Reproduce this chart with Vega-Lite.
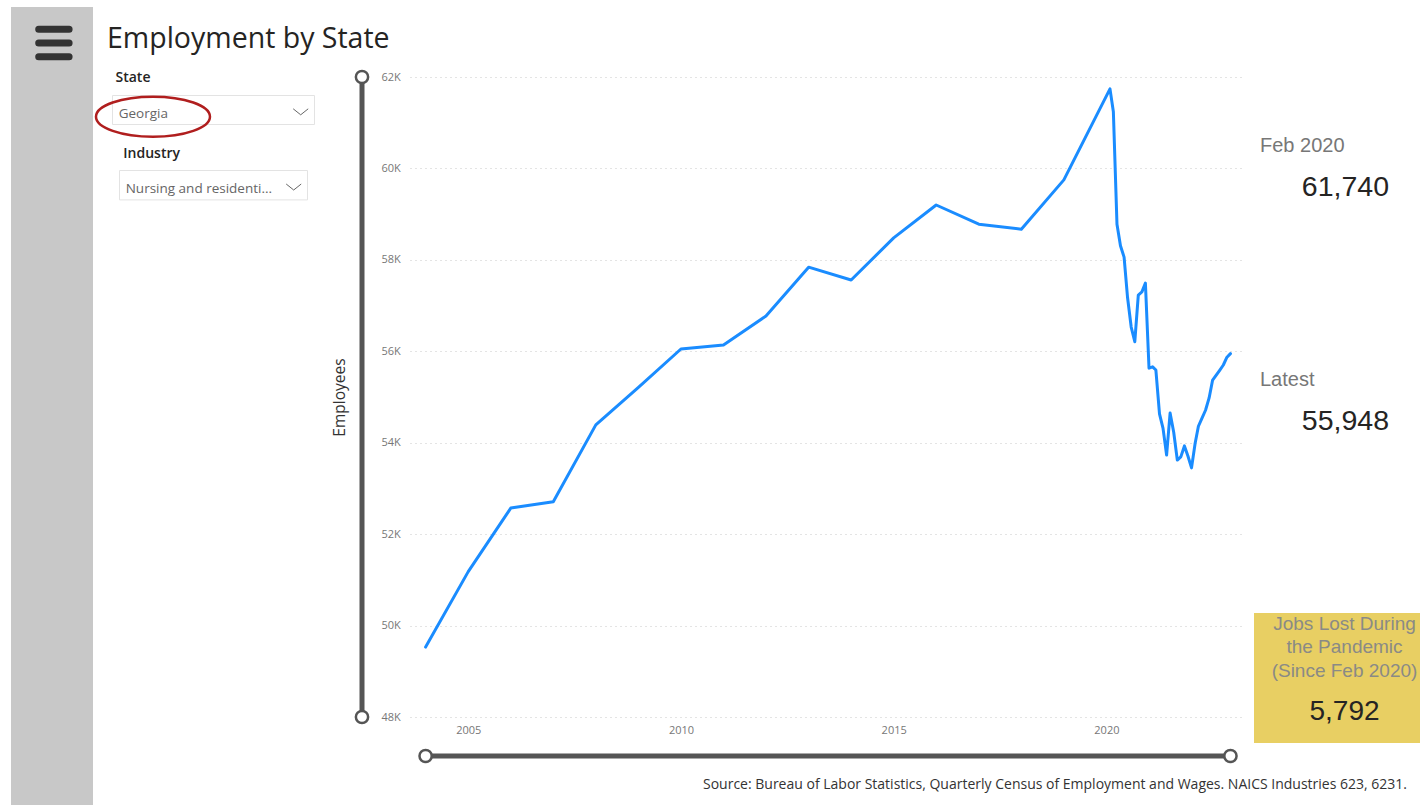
{
  "$schema": "https://vega.github.io/schema/vega-lite/v6.json",
  "background": "white",
  "padding": {"left": 11, "top": 7, "right": 0, "bottom": 0},
  "spacing": 0,
  "config": {
    "view": {"stroke": null},
    "concat": {"spacing": 0},
    "font": "Open Sans"
  },
  "datasets": {
    "employment": [
      {"date": "2004-01-01", "employees": 49530},
      {"date": "2005-01-01", "employees": 51180},
      {"date": "2006-01-01", "employees": 52570},
      {"date": "2007-01-01", "employees": 52710},
      {"date": "2008-01-01", "employees": 54390},
      {"date": "2009-01-01", "employees": 55210},
      {"date": "2010-01-01", "employees": 56050},
      {"date": "2011-01-01", "employees": 56140},
      {"date": "2012-01-01", "employees": 56770},
      {"date": "2013-01-01", "employees": 57840},
      {"date": "2014-01-01", "employees": 57560},
      {"date": "2015-01-01", "employees": 58480},
      {"date": "2016-01-01", "employees": 59200},
      {"date": "2017-01-01", "employees": 58780},
      {"date": "2018-01-01", "employees": 58670},
      {"date": "2019-01-01", "employees": 59750},
      {"date": "2020-02-01", "employees": 61740},
      {"date": "2020-03-01", "employees": 61240},
      {"date": "2020-04-01", "employees": 58780},
      {"date": "2020-05-01", "employees": 58310},
      {"date": "2020-06-01", "employees": 58060},
      {"date": "2020-07-01", "employees": 57170},
      {"date": "2020-08-01", "employees": 56530},
      {"date": "2020-09-01", "employees": 56210},
      {"date": "2020-10-01", "employees": 57230},
      {"date": "2020-11-01", "employees": 57300},
      {"date": "2020-12-01", "employees": 57490},
      {"date": "2021-01-01", "employees": 55630},
      {"date": "2021-02-01", "employees": 55660},
      {"date": "2021-03-01", "employees": 55590},
      {"date": "2021-04-01", "employees": 54630},
      {"date": "2021-05-01", "employees": 54320},
      {"date": "2021-06-01", "employees": 53730},
      {"date": "2021-07-01", "employees": 54650},
      {"date": "2021-08-01", "employees": 54230},
      {"date": "2021-09-01", "employees": 53620},
      {"date": "2021-10-01", "employees": 53690},
      {"date": "2021-11-01", "employees": 53930},
      {"date": "2021-12-01", "employees": 53710},
      {"date": "2022-01-01", "employees": 53450},
      {"date": "2022-02-01", "employees": 53990},
      {"date": "2022-03-01", "employees": 54360},
      {"date": "2022-04-01", "employees": 54540},
      {"date": "2022-05-01", "employees": 54710},
      {"date": "2022-06-01", "employees": 54980},
      {"date": "2022-07-01", "employees": 55370},
      {"date": "2022-08-01", "employees": 55480},
      {"date": "2022-09-01", "employees": 55590},
      {"date": "2022-10-01", "employees": 55700},
      {"date": "2022-11-01", "employees": 55870},
      {"date": "2022-12-01", "employees": 55948}
    ]
  },
  "hconcat": [
    {
      "bounds": "flush",
      "spacing": 0,
      "vconcat": [
        {
          "width": 82, "height": 72,
          "view": {"fill": "#c8c8c8", "stroke": null},
          "data": {"values": [{"icon": "menu"}]},
          "mark": {"type": "point", "shape": "M-0.875,-0.9L1.125,-0.9M-0.875,0L1.125,0M-0.875,0.9L1.125,0.9", "size": 924, "filled": false, "stroke": "#333333", "strokeWidth": 7, "strokeCap": "round", "opacity": 1}
        },
        {
          "width": 82, "height": 726,
          "view": {"fill": "#c8c8c8", "stroke": null},
          "data": {"values": []},
          "mark": "point"
        }
      ]
    },
    {
      "spacing": 0,
      "vconcat": [
        {
          "width": 1, "height": 41.3,
          "data": {"values": []},
          "mark": "point",
          "title": {"text": "Employment by State", "orient": "bottom", "anchor": "start", "frame": "group", "dx": 14, "offset": 0, "baseline": "alphabetic", "font": "Open Sans", "fontSize": 28.5, "fontWeight": "normal", "color": "#252423"}
        },
        {
          "spacing": 0,
          "hconcat": [
            {"width": 0.01, "height": 1, "data": {"values": []}, "mark": "point"},
            {
              "bounds": "flush",
              "center": true,
              "spacing": 0,
              "vconcat": [
                {
                  "width": 202, "height": 28.4,
                  "data": {"values": []},
                  "mark": "point",
                  "title": {"text": "State", "orient": "bottom", "anchor": "start", "frame": "group", "dx": 3.5, "offset": 0, "baseline": "alphabetic", "font": "Open Sans", "fontSize": 14, "fontWeight": 600, "color": "#252423"}
                },
                {"width": 1, "height": 11.6, "data": {"values": []}, "mark": "point"},
                {
                  "width": 202, "height": 29,
                  "view": {"stroke": "#e3e3e3", "strokeWidth": 1},
                  "data": {"values": [{"part": "value", "label": "Georgia"}, {"part": "chevron", "label": ""}]},
                  "encoding": {
                    "x": {"field": "part", "type": "nominal", "scale": {"type": "point", "domain": ["value", "chevron"], "padding": 0}, "axis": null}
                  },
                  "layer": [
                    {
                      "transform": [{"filter": "datum.part === 'value'"}],
                      "mark": {"type": "text", "align": "left", "baseline": "alphabetic", "dx": 6.7, "dy": 8, "font": "Open Sans", "fontSize": 13.5, "color": "#666666"},
                      "encoding": {"text": {"field": "label"}}
                    },
                    {
                      "transform": [{"filter": "datum.part === 'chevron'"}],
                      "mark": {"type": "point", "shape": "M-2.773,-0.093L-1.773,0.707L-0.773,-0.093", "size": 225, "filled": false, "stroke": "#666666", "strokeWidth": 1, "strokeJoin": "round", "opacity": 1}
                    },
                    {
                      "transform": [{"filter": "datum.part === 'value'"}],
                      "mark": {"type": "point", "shape": "M-0.281,0.126A1,0.351,0,1,1,1.719,0.126A1,0.351,0,1,1,-0.281,0.126Z", "size": 12996, "filled": false, "stroke": "#b01e1e", "strokeWidth": 2.5, "strokeJoin": "round", "opacity": 1}
                    }
                  ]
                },
                {
                  "width": 188, "height": 34.4,
                  "data": {"values": []},
                  "mark": "point",
                  "title": {"text": "Industry", "orient": "bottom", "anchor": "start", "frame": "group", "dx": 4.3, "offset": 0, "baseline": "alphabetic", "font": "Open Sans", "fontSize": 14, "fontWeight": 600, "color": "#252423"}
                },
                {"width": 1, "height": 10.6, "data": {"values": []}, "mark": "point"},
                {
                  "width": 188, "height": 29.4,
                  "view": {"stroke": "#e3e3e3", "strokeWidth": 1},
                  "data": {"values": [{"part": "value", "label": "Nursing and residenti..."}, {"part": "chevron", "label": ""}]},
                  "encoding": {
                    "x": {"field": "part", "type": "nominal", "scale": {"type": "point", "domain": ["value", "chevron"], "padding": 0}, "axis": null}
                  },
                  "layer": [
                    {
                      "transform": [{"filter": "datum.part === 'value'"}],
                      "mark": {"type": "text", "align": "left", "baseline": "alphabetic", "dx": 6.7, "dy": 8.5, "font": "Open Sans", "fontSize": 13.5, "color": "#666666"},
                      "encoding": {"text": {"field": "label"}}
                    },
                    {
                      "transform": [{"filter": "datum.part === 'chevron'"}],
                      "mark": {"type": "point", "shape": "M-2.773,-0.093L-1.773,0.707L-0.773,-0.093", "size": 225, "filled": false, "stroke": "#666666", "strokeWidth": 1, "strokeJoin": "round", "opacity": 1}
                    }
                  ]
                }
              ]
            },
            {"width": 16.25, "height": 1, "data": {"values": []}, "mark": "point"},
            {
              "bounds": "flush",
              "spacing": 0,
              "vconcat": [
                {"width": 16, "height": 22.7, "data": {"values": []}, "mark": "point"},
                {
                  "width": 16, "height": 640,
                  "data": {"values": [{}]},
                  "layer": [
                    {
                      "mark": {"type": "rule", "stroke": "#555555", "strokeWidth": 5},
                      "encoding": {
                        "y": {"datum": 48000, "type": "quantitative", "scale": {"domain": [48000, 62000], "nice": false, "zero": false},
                          "axis": {"title": "Employees", "titleFont": "Open Sans", "titleFontSize": 15.5, "titleFontWeight": "normal", "titleColor": "#333333", "titlePadding": 7, "labels": false, "ticks": false, "domain": false, "grid": false}},
                        "y2": {"datum": 62000}
                      }
                    },
                    {
                      "mark": {"type": "point", "shape": "circle", "size": 150, "filled": true, "fill": "white", "stroke": "#555555", "strokeWidth": 2.5, "strokeJoin": "round", "opacity": 1},
                      "encoding": {"y": {"datum": 48000, "type": "quantitative"}}
                    },
                    {
                      "mark": {"type": "point", "shape": "circle", "size": 150, "filled": true, "fill": "white", "stroke": "#555555", "strokeWidth": 2.5, "strokeJoin": "round", "opacity": 1},
                      "encoding": {"y": {"datum": 62000, "type": "quantitative"}}
                    }
                  ]
                }
              ]
            },
            {"width": 10.1, "height": 1, "data": {"values": []}, "mark": "point"},
            {
              "bounds": "flush",
              "spacing": 0,
              "vconcat": [
                {"width": 1, "height": 22.7, "data": {"values": []}, "mark": "point"},
                {
                  "width": 835, "height": 640,
                  "data": {"name": "employment"},
                  "mark": {"type": "line", "color": "#1a8cff", "strokeWidth": 3, "strokeJoin": "round", "strokeCap": "round"},
                  "encoding": {
                    "x": {
                      "field": "date", "type": "temporal",
                      "scale": {"type": "utc", "domain": [{"year": 2003, "month": 8, "date": 20, "utc": true}, {"year": 2023, "month": 4, "date": 5, "utc": true}]},
                      "axis": {"title": null, "values": [{"year": 2005, "utc": true}, {"year": 2010, "utc": true}, {"year": 2015, "utc": true}, {"year": 2020, "utc": true}], "format": "%Y", "labelColor": "#777777", "labelFont": "Open Sans", "labelFontSize": 11, "labelPadding": 7, "labelFlush": false, "ticks": false, "domain": false, "grid": false}
                    },
                    "y": {
                      "field": "employees", "type": "quantitative",
                      "scale": {"domain": [48000, 62000], "nice": false, "zero": false},
                      "axis": {"title": null, "values": [48000, 50000, 52000, 54000, 56000, 58000, 60000, 62000], "labelExpr": "format(datum.value / 1000, 'd') + 'K'", "labelAlign": "left", "labelPadding": 29, "labelColor": "#777777", "labelFont": "Open Sans", "labelFontSize": 11, "ticks": false, "domain": false, "grid": true, "gridColor": "#c8c8c8", "gridDash": [1, 4], "gridWidth": 1}
                    }
                  }
                },
                {"width": 1, "height": 31, "data": {"values": []}, "mark": "point"},
                {
                  "width": 835, "height": 16,
                  "data": {"name": "employment"},
                  "layer": [
                    {
                      "mark": {"type": "rule", "stroke": "#555555", "strokeWidth": 5},
                      "encoding": {
                        "x": {"aggregate": "min", "field": "date", "type": "temporal",
                          "scale": {"type": "utc", "domain": [{"year": 2003, "month": 8, "date": 20, "utc": true}, {"year": 2023, "month": 4, "date": 5, "utc": true}]},
                          "axis": null},
                        "x2": {"aggregate": "max", "field": "date"}
                      }
                    },
                    {
                      "mark": {"type": "point", "shape": "circle", "size": 150, "filled": true, "fill": "white", "stroke": "#555555", "strokeWidth": 2.5, "strokeJoin": "round", "opacity": 1},
                      "encoding": {"x": {"aggregate": "min", "field": "date", "type": "temporal", "axis": null}}
                    },
                    {
                      "mark": {"type": "point", "shape": "circle", "size": 150, "filled": true, "fill": "white", "stroke": "#555555", "strokeWidth": 2.5, "strokeJoin": "round", "opacity": 1},
                      "encoding": {"x": {"aggregate": "max", "field": "date", "type": "temporal", "axis": null}}
                    }
                  ]
                }
              ]
            },
            {"width": 8.5, "height": 1, "data": {"values": []}, "mark": "point"},
            {
              "bounds": "flush",
              "spacing": 0,
              "vconcat": [
                {"width": 1, "height": 98, "data": {"values": []}, "mark": "point"},
                {
                  "width": 135, "height": 43.5,
                  "data": {"values": [{"part": "label", "text": "Feb 2020"}, {"part": "value", "text": "61,740"}]},
                  "encoding": {
                    "x": {"field": "part", "type": "nominal", "scale": {"type": "point", "domain": ["label", "value"], "padding": 0}, "axis": null},
                    "y": {"field": "part", "type": "nominal", "scale": {"type": "point", "domain": ["label", "value"], "padding": 0}, "axis": null},
                    "text": {"field": "text"}
                  },
                  "layer": [
                    {"transform": [{"filter": "datum.part === 'label'"}], "mark": {"type": "text", "align": "left", "baseline": "alphabetic", "dx": 6, "font": "Liberation Sans", "fontSize": 20, "color": "#777777"}},
                    {"transform": [{"filter": "datum.part === 'value'"}], "mark": {"type": "text", "align": "right", "baseline": "alphabetic", "font": "Liberation Sans", "fontSize": 28.5, "color": "#252423"}}
                  ]
                },
                {"width": 1, "height": 189.2, "data": {"values": []}, "mark": "point"},
                {
                  "width": 135, "height": 43.5,
                  "data": {"values": [{"part": "label", "text": "Latest"}, {"part": "value", "text": "55,948"}]},
                  "encoding": {
                    "x": {"field": "part", "type": "nominal", "scale": {"type": "point", "domain": ["label", "value"], "padding": 0}, "axis": null},
                    "y": {"field": "part", "type": "nominal", "scale": {"type": "point", "domain": ["label", "value"], "padding": 0}, "axis": null},
                    "text": {"field": "text"}
                  },
                  "layer": [
                    {"transform": [{"filter": "datum.part === 'label'"}], "mark": {"type": "text", "align": "left", "baseline": "alphabetic", "dx": 6, "font": "Liberation Sans", "fontSize": 20, "color": "#777777"}},
                    {"transform": [{"filter": "datum.part === 'value'"}], "mark": {"type": "text", "align": "right", "baseline": "alphabetic", "font": "Liberation Sans", "fontSize": 28.5, "color": "#252423"}}
                  ]
                },
                {"width": 1, "height": 183, "data": {"values": []}, "mark": "point"},
                {
                  "width": 168, "height": 130,
                  "view": {"fill": "#e8cf63", "stroke": null},
                  "data": {"values": [{"part": "label", "text": ["Jobs Lost During", "the Pandemic", "(Since Feb 2020)"]}, {"part": "value", "text": "5,792"}]},
                  "encoding": {
                    "y": {"field": "part", "type": "nominal", "scale": {"type": "point", "domain": ["label", "value"], "padding": 0.2222}, "axis": null},
                    "text": {"field": "text"}
                  },
                  "layer": [
                    {"transform": [{"filter": "datum.part === 'label'"}], "mark": {"type": "text", "align": "center", "baseline": "alphabetic", "dx": 6.5, "dy": -3, "font": "Liberation Sans", "fontSize": 19, "lineHeight": 23.5, "color": "#8a8a86"}},
                    {"transform": [{"filter": "datum.part === 'value'"}], "mark": {"type": "text", "align": "center", "baseline": "alphabetic", "dx": 6.5, "dy": -3, "font": "Liberation Sans", "fontSize": 28, "color": "#252423"}}
                  ]
                }
              ]
            }
          ]
        },
        {
          "width": 1314, "height": 25.3,
          "data": {"values": []},
          "mark": "point",
          "title": {"text": "Source: Bureau of Labor Statistics, Quarterly Census of Employment and Wages. NAICS Industries 623, 6231.", "orient": "bottom", "anchor": "end", "frame": "group", "offset": 0, "baseline": "alphabetic", "font": "Open Sans", "fontSize": 14, "fontWeight": "normal", "color": "#333333"}
        }
      ]
    }
  ]
}
